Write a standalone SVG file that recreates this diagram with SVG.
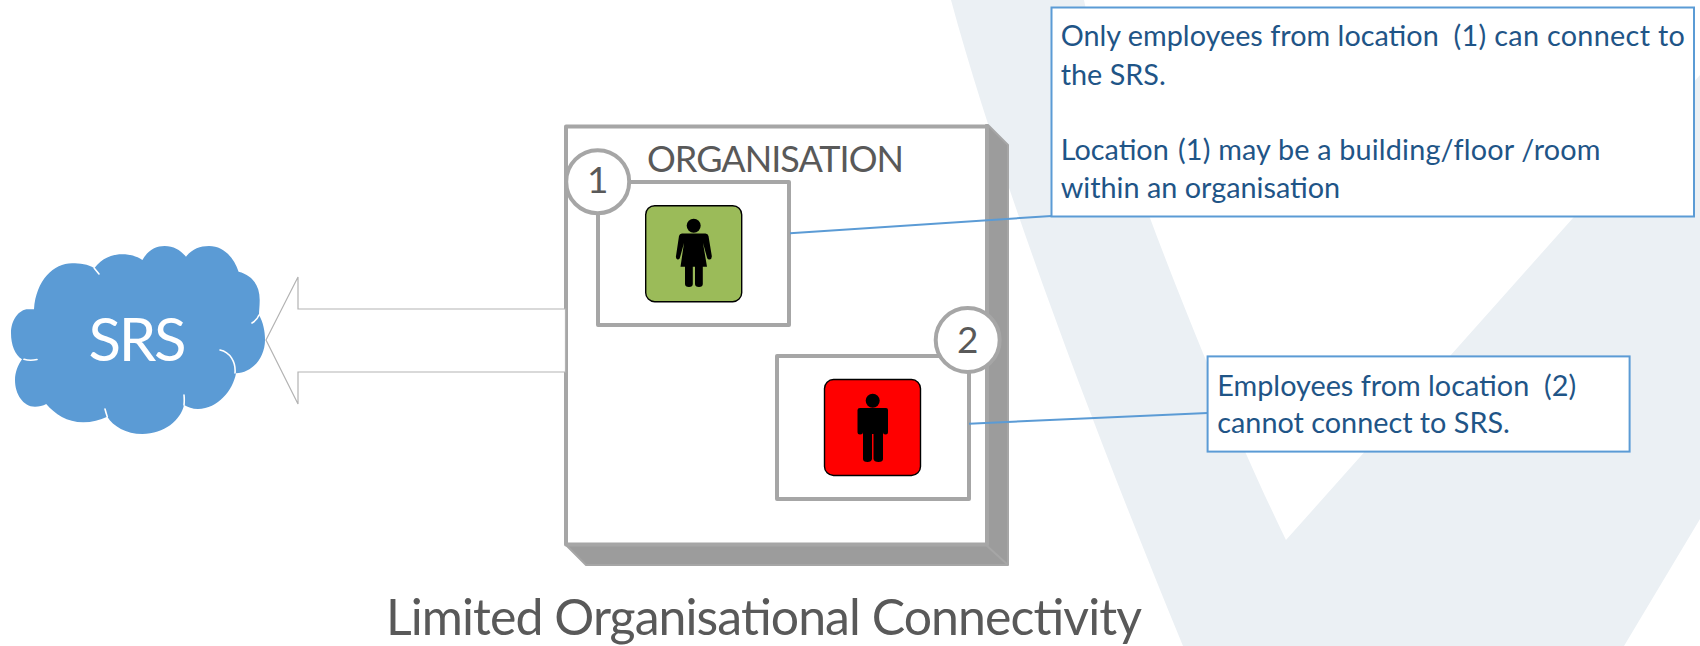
<svg xmlns="http://www.w3.org/2000/svg" width="1700" height="646" viewBox="0 0 1700 646">
<style>
text{font-family:"Lato","Liberation Sans",sans-serif}
.g{fill:#595959}
.n{fill:#1f5587;font-size:28.800px}
.bx{fill:#fff;stroke:#a6a6a6;stroke-width:4;stroke-linejoin:round}
.note{fill:#fff;stroke:#5b9bd5;stroke-width:2}
.con{fill:none;stroke:#5b9bd5;stroke-width:2}
.tile{stroke:#000;stroke-width:1.4}
.fold{fill:none;stroke:#fff;stroke-width:1.6;stroke-linecap:round}
</style>
<rect width="1700" height="646" fill="#fff"/>
<g id="watermark">
<path d="M951 0H1084C1100 80 1125 150 1150 218C1190 325 1240 445 1286 540L1573 218L1700 75V519L1624 646H1183C1090 420 1000 180 951 0Z" fill="#ebf0f4"/>
</g>
<g id="organisation">
<path d="M988 125L1008 145V565H586L566 545H986V125Z" fill="#9c9c9c" stroke="#a6a6a6" stroke-width="2" stroke-linejoin="round"/>
<path d="M986 545L1008 565" stroke="#a6a6a6" stroke-width="2"/>
<rect class="bx" x="566" y="126.500" width="421" height="418"/>
<text class="g" x="647" y="171.700" font-size="36" textLength="257">ORGANISATION</text>
</g>
<g id="arrow">
<path d="M266 340L298 277V309H565.500V372H298V404Z" fill="#fff" stroke="#b3b3b3" stroke-width="1.200"/>
</g>
<g id="srs">
<path d="M34 309.300C36 280 54 263.300 72 263.300C80 263.300 88 264 94.300 268.300C102 258 112 254.300 122 254.300C130 254.300 136 256 142.400 260C148 250 156 246 164.600 246C174 246 180 250 186 256.700C192 249 200 246 209 246C224 246 234 258 238.600 271.700C252 275 259.700 285 259.700 300C259.700 306 259 311 259 315C263 322 265 331 265 340C265 358 252 373 236 373.300C233 390 218 409 198 409C192 409 188 407 184 405C181 420 164 434 142.400 434C126 434 113 426 107.300 416.700C100 420 92 422.300 83.200 422.300C67 422.300 55 414 46.200 404C43 406 39 406.700 35 406.700C23 406.700 15 394 15 380C15 372 18 365 22 359.300C15 355 11 345 11 333C11 320 19 309.300 28 309.300Z" fill="#5b9bd5"/>
<path class="fold" d="M94.300 268.300L99 274M252 323Q257 320 259 315M220 350C230 352 236 362 235 373M24 359.300Q30 361 37 359.500M105 409Q106 413 107.300 416.700M184 395Q184.500 400 184 405"/>
<text x="137.500" y="360.700" font-size="60" fill="#fff" text-anchor="middle" textLength="98">SRS</text>
</g>
<g id="location1">
<rect class="bx" x="598" y="182" width="191" height="143"/>
<circle class="bx" cx="597.700" cy="181.700" r="31.500"/>
<text class="g" x="597.700" y="193.300" font-size="37" text-anchor="middle">1</text>
<rect class="tile" x="645.700" y="205.700" width="96" height="96" rx="9" fill="#9bbb59"/>
<circle cx="693.700" cy="225.700" r="7"/>
<path d="M682 233.500H705.500Q708 233.500 708.500 236L711.800 256Q712 259 709.500 259.500Q707.500 260 707 257.500L703 243L707 266.700H702.800V284Q702.800 287 699 287Q695 287 695 284V266.700H692.800V284Q692.800 287 689 287Q685 287 685 284V266.700H680.500L684 243L680 257.500Q679.500 260 677.500 259.500Q675.500 259 676 256L679 236Q679.500 233.500 682 233.500Z"/>
</g>
<g id="location2">
<rect class="bx" x="777" y="356" width="192" height="143"/>
<circle class="bx" cx="967.700" cy="340" r="32"/>
<text class="g" x="967.700" y="352.700" font-size="37" text-anchor="middle">2</text>
<rect class="tile" x="824.500" y="379.500" width="96" height="96" rx="9" fill="#f00"/>
<circle cx="872.700" cy="400.700" r="7"/>
<path d="M860 408H886Q888 408 888 410V432Q888 434.500 885.500 434.500Q883 434.500 883 432V459Q883 462 878.500 462Q874 462 873.500 459V434H872V459Q871.500 462 867.500 462Q863 462 863 459V432Q863 434.500 860 434.500Q857.500 434.500 857.500 432V410Q857.500 408 860 408Z"/>
</g>
<g id="connectors">
<path class="con" d="M790 233.300L1051.500 216"/>
<path class="con" d="M969 423.700L1207.600 413"/>
</g>
<g id="note1">
<rect class="note" x="1051.500" y="7.500" width="642.500" height="209"/>
<text class="n" x="1060.700" y="46">Only employees from location <tspan x="1453.600" letter-spacing=".3">(1) can connect to</tspan></text>
<text class="n" x="1060.700" y="84.500">the SRS.</text>
<text class="n" x="1060.700" y="159.500">Location <tspan x="1178" letter-spacing=".17">(1) may be a building/floor /room</tspan></text>
<text class="n" x="1060.700" y="197.800">within an organisation</text>
</g>
<g id="note2">
<rect class="note" x="1207.600" y="356.400" width="422" height="95.200"/>
<text class="n" x="1217.300" y="395.500">Employees from location <tspan x="1544">(2)</tspan></text>
<text class="n" x="1217.300" y="432.600">cannot connect to SRS.</text>
</g>
<text id="title" class="g" x="386" y="635" font-size="50" textLength="756">Limited Organisational Connectivity</text>
</svg>
